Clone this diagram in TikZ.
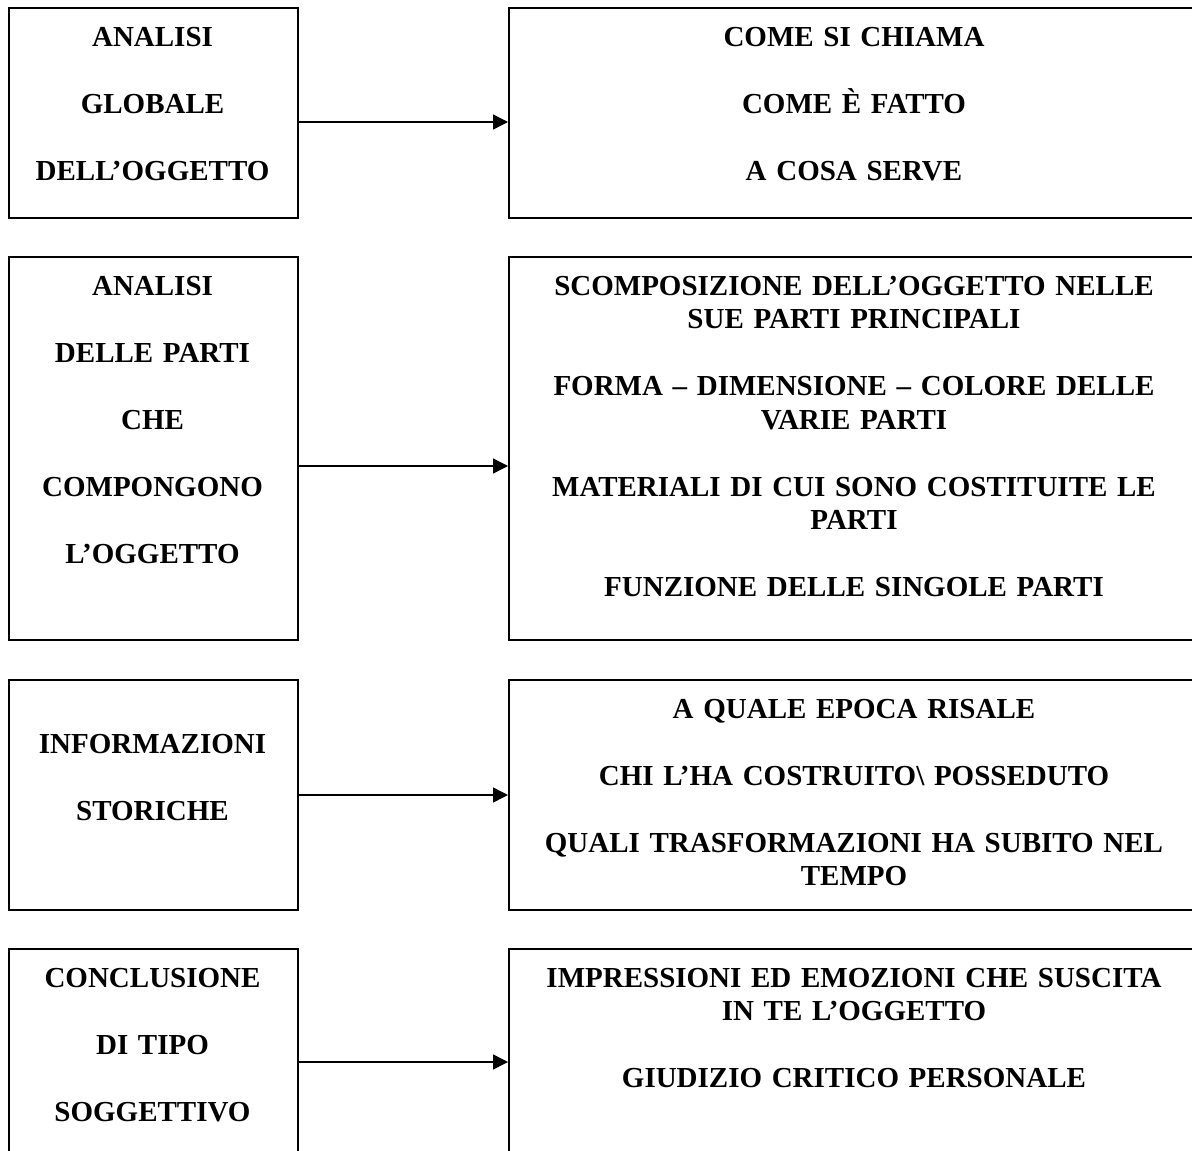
\documentclass[tikz,border=0pt]{standalone}
\usepackage{fontspec}
\setmainfont{Liberation Serif}
\usetikzlibrary{arrows.meta}
\setlength{\parindent}{0pt}
\begin{document}
\begin{tikzpicture}[x=1pt,y=-1pt,
  box/.style={draw=black, line width=1.6pt, anchor=north west, inner sep=0pt},
  lbox/.style={box, minimum width=289pt},
  rbox/.style={box, minimum width=692pt},
  txt/.style={anchor=north, inner sep=0pt, align=center,
    font=\fontsize{29pt}{33.5pt}\selectfont\bfseries},
  ltxt/.style={txt, text width=280pt},
  rtxt/.style={txt, text width=680pt},
  arr/.style={line width=1.5pt, -{Triangle[length=15pt,width=15pt]}}]
\useasboundingbox (0,0) rectangle (1192,1151);
\clip (0,0) rectangle (1192,1151);

% boxes: left column (headings) and right column (details)
\node[lbox, minimum height=210pt] (l1) at (8,7) {};
\node[rbox, minimum height=210pt] (r1) at (508,7) {};
\node[lbox, minimum height=383pt] (l2) at (8,256) {};
\node[rbox, minimum height=383pt] (r2) at (508,256) {};
\node[lbox, minimum height=230pt] (l3) at (8,679) {};
\node[rbox, minimum height=230pt] (r3) at (508,679) {};
\node[lbox, minimum height=260pt] (l4) at (8,948) {};
\node[rbox, minimum height=260pt] (r4) at (508,948) {};

% texts (first baseline minus 21pt strut)
\node[ltxt] (lt1) at (152.5,25) {\rule{0pt}{21pt}ANALISI\\[33.5pt]GLOBALE\\[33.5pt]DELL’OGGETTO};
\node[rtxt] (rt1) at (854,25) {\rule{0pt}{21pt}COME SI CHIAMA\\[33.5pt]COME È FATTO\\[33.5pt]A COSA SERVE};

\node[ltxt] (lt2) at (152.5,274) {\rule{0pt}{21pt}ANALISI\\[33.5pt]DELLE PARTI\\[33.5pt]CHE\\[33.5pt]COMPONGONO\\[33.5pt]L’OGGETTO};
\node[rtxt] (rt2) at (854,274) {\rule{0pt}{21pt}SCOMPOSIZIONE DELL’OGGETTO NELLE\\SUE PARTI PRINCIPALI\\[33.5pt]FORMA – DIMENSIONE – COLORE DELLE\\VARIE PARTI\\[33.5pt]MATERIALI DI CUI SONO COSTITUITE LE\\PARTI\\[33.5pt]FUNZIONE DELLE SINGOLE PARTI};

\node[ltxt] (lt3) at (152.5,732) {\rule{0pt}{21pt}INFORMAZIONI\\[33.5pt]STORICHE};
\node[rtxt] (rt3) at (854,697) {\rule{0pt}{21pt}A QUALE EPOCA RISALE\\[33.5pt]CHI L’HA COSTRUITO\textbackslash{} POSSEDUTO\\[33.5pt]QUALI TRASFORMAZIONI HA SUBITO NEL\\TEMPO};

\node[ltxt] (lt4) at (152.5,966) {\rule{0pt}{21pt}CONCLUSIONE\\[33.5pt]DI TIPO\\[33.5pt]SOGGETTIVO};
\node[rtxt] (rt4) at (854,966) {\rule{0pt}{21pt}IMPRESSIONI ED EMOZIONI CHE SUSCITA\\IN TE L’OGGETTO\\[33.5pt]GIUDIZIO CRITICO PERSONALE};

% connectors
\coordinate (a1) at (300,122);
\coordinate (a2) at (300,466);
\coordinate (a3) at (300,795);
\coordinate (a4) at (300,1062);
\draw[arr] (a1 -| l1.east) -- (a1 -| r1.west);
\draw[arr] (a2 -| l2.east) -- (a2 -| r2.west);
\draw[arr] (a3 -| l3.east) -- (a3 -| r3.west);
\draw[arr] (a4 -| l4.east) -- (a4 -| r4.west);
\end{tikzpicture}
\end{document}
